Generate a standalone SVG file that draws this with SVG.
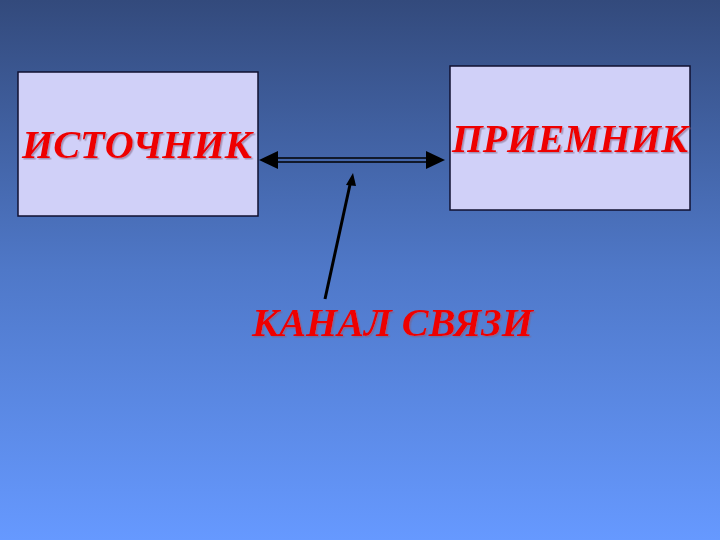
<svg xmlns="http://www.w3.org/2000/svg" width="720" height="540" viewBox="0 0 720 540">
<defs>
<linearGradient id="bg" x1="0" y1="0" x2="0" y2="1">
<stop offset="0" stop-color="#334a7c"/>
<stop offset="0.5" stop-color="#4f78c8"/>
<stop offset="1" stop-color="#6699ff"/>
</linearGradient>
<filter id="ds" x="-5%" y="-20%" width="110%" height="140%">
<feDropShadow dx="1.5" dy="1.5" stdDeviation="0.4" flood-color="#806080" flood-opacity="0.55"/>
</filter>
</defs>
<style>
.box{fill:#d0d0f8;stroke:#101030;stroke-width:1.5}
.t{font-family:"Liberation Serif","Times New Roman",serif;font-weight:bold;font-style:italic;fill:#ee0000;filter:url(#ds)}
</style>
<rect width="720" height="540" fill="url(#bg)"/>
<g id="source">
<rect class="box" x="18" y="72" width="240" height="144"/>
<text class="t" x="22" y="158" font-size="40" textLength="230" lengthAdjust="spacingAndGlyphs">ИСТОЧНИК</text>
</g>
<g id="receiver">
<rect class="box" x="450" y="66" width="240" height="144"/>
<text class="t" x="452" y="152" font-size="40" textLength="236" lengthAdjust="spacingAndGlyphs">ПРИЕМНИК</text>
</g>
<g id="channel">
<text class="t" x="252" y="336" font-size="40" textLength="281" lengthAdjust="spacingAndGlyphs">КАНАЛ СВЯЗИ</text>
</g>
<g id="connectors">
<line x1="274" y1="158" x2="428" y2="158" stroke="#000" stroke-width="1.5"/>
<line x1="274" y1="162" x2="428" y2="162" stroke="#000" stroke-width="1.5"/>
<path d="M259,160 L278,151 L278,169 Z" fill="#000"/>
<path d="M445,160 L426,151 L426,169 Z" fill="#000"/>
<line x1="325" y1="299" x2="351" y2="180" stroke="#000" stroke-width="3"/>
<path d="M353,173 L346,185 L356,186 Z" fill="#000"/>
</g>
</svg>
